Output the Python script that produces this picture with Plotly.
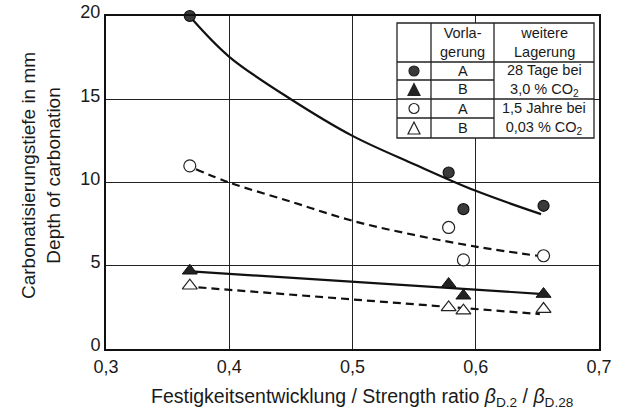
import plotly.graph_objects as go

# ---- data ----
x_pts = [0.368, 0.578, 0.590, 0.655]
filled_circle_y = [20.0, 10.6, 8.4, 8.6]      # A, 28 Tage bei 3,0 % CO2
filled_tri_y = [4.7, 3.9, 3.2, 3.3]           # B, 28 Tage bei 3,0 % CO2
open_circle_y = [11.0, 7.3, 5.35, 5.6]        # A, 1,5 Jahre bei 0,03 % CO2
open_tri_y = [3.8, 2.5, 2.3, 2.4]             # B, 1,5 Jahre bei 0,03 % CO2

# fitted curves
fitA_x = [0.370, 0.40, 0.45, 0.50, 0.55, 0.60, 0.653]
fitA_y = [19.8, 17.55, 15.0, 12.8, 11.1, 9.5, 8.1]
fitA2_x = [0.373, 0.40, 0.45, 0.50, 0.55, 0.60, 0.650]
fitA2_y = [10.8, 10.0, 8.85, 7.7, 6.85, 6.15, 5.6]
fitB_x = [0.372, 0.655]
fitB_y = [4.65, 3.3]
fitB2_x = [0.375, 0.652]
fitB2_y = [3.7, 2.1]

x_ticks = [0.3, 0.4, 0.5, 0.6, 0.7]
x_tick_text = ["0,3", "0,4", "0,5", "0,6", "0,7"]
y_ticks = [0, 5, 10, 15, 20]

W, H = 632, 417
L, R, T, B = 106, 33, 16, 68
PW, PH = W - L - R, H - T - B
FONT = "Liberation Sans, Arial, sans-serif"
TXT = "#1a1a1a"


def px(xp):
    return (xp - L) / PW


def py(yp):
    return (H - B - yp) / PH


fig = go.Figure()

line_w = 2.2
fig.add_trace(go.Scatter(x=fitA_x, y=fitA_y, mode="lines", line=dict(color="#111", width=line_w, shape="spline"), hoverinfo="skip"))
fig.add_trace(go.Scatter(x=fitA2_x, y=fitA2_y, mode="lines", line=dict(color="#111", width=line_w, shape="spline", dash="8px,5px"), hoverinfo="skip"))
fig.add_trace(go.Scatter(x=fitB_x, y=fitB_y, mode="lines", line=dict(color="#111", width=line_w), hoverinfo="skip"))
fig.add_trace(go.Scatter(x=fitB2_x, y=fitB2_y, mode="lines", line=dict(color="#111", width=line_w, dash="8px,5px"), hoverinfo="skip"))

fig.add_trace(go.Scatter(x=x_pts, y=filled_circle_y, mode="markers", cliponaxis=False,
                         marker=dict(symbol="circle", size=11, color="#3a3a3a", line=dict(color="#111", width=1.2))))
fig.add_trace(go.Scatter(x=x_pts, y=filled_tri_y, mode="markers", cliponaxis=False,
                         marker=dict(symbol="triangle-up", size=13, color="#222", line=dict(color="#111", width=1))))
fig.add_trace(go.Scatter(x=x_pts, y=open_circle_y, mode="markers", cliponaxis=False,
                         marker=dict(symbol="circle", size=12, color="white", line=dict(color="#222", width=1.2))))
fig.add_trace(go.Scatter(x=x_pts, y=open_tri_y, mode="markers", cliponaxis=False,
                         marker=dict(symbol="triangle-up", size=13, color="white", line=dict(color="#222", width=1.2))))

shapes = []
annotations = []

# ---- legend table ----
tl, c1, c2, tr = 397, 431, 494, 594
rows = [23, 62, 80, 99, 118, 138]
lw = 1.3
lc = "#222"


def hline(x0, x1, y):
    shapes.append(dict(type="line", xref="paper", yref="paper", x0=px(x0), x1=px(x1), y0=py(y), y1=py(y),
                       line=dict(color=lc, width=lw)))


def vline(x, y0, y1):
    shapes.append(dict(type="line", xref="paper", yref="paper", x0=px(x), x1=px(x), y0=py(y0), y1=py(y1),
                       line=dict(color=lc, width=lw)))


shapes.append(dict(type="rect", xref="paper", yref="paper", x0=px(tl), x1=px(tr), y0=py(rows[0]), y1=py(rows[-1]),
                   fillcolor="white", line=dict(color=lc, width=lw), layer="above"))
hline(tl, tr, rows[1])
hline(tl, c2, rows[2])
hline(tl, tr, rows[3])
hline(tl, c2, rows[4])
vline(c1, rows[0], rows[-1])
vline(c2, rows[0], rows[-1])

tfont = dict(family=FONT, size=14.5, color=TXT)


def txt(x, y, s):
    annotations.append(dict(x=px(x), y=py(y), xref="paper", yref="paper", text=s, showarrow=False,
                            font=tfont, xanchor="center", yanchor="middle"))


txt((c1 + c2) / 2, 42, "Vorla-<br>gerung")
txt((c2 + tr) / 2, 42, "weitere<br>Lagerung")
for i, s in enumerate(["A", "B", "A", "B"]):
    txt((c1 + c2) / 2, (rows[i + 1] + rows[i + 2]) / 2, s)
txt((c2 + tr) / 2, (rows[1] + rows[3]) / 2, "28 Tage bei<br>3,0 % CO<sub>2</sub>")
txt((c2 + tr) / 2, (rows[3] + rows[5]) / 2, "1,5 Jahre bei<br>0,03 % CO<sub>2</sub>")

# legend symbols
mx = (tl + c1) / 2
for i, (kind, fill) in enumerate([("c", "#3a3a3a"), ("t", "#222"), ("c", "white"), ("t", "white")]):
    cy = (rows[i + 1] + rows[i + 2]) / 2
    if kind == "c":
        r = 5
        shapes.append(dict(type="circle", xref="paper", yref="paper", x0=px(mx - r), x1=px(mx + r),
                           y0=py(cy + r), y1=py(cy - r), fillcolor=fill, line=dict(color="#222", width=1.2)))
    else:
        h = 6
        path = (f"M {px(mx - 6)} {py(cy + h)} L {px(mx + 6)} {py(cy + h)} L {px(mx)} {py(cy - h)} Z")
        shapes.append(dict(type="path", xref="paper", yref="paper", path=path, fillcolor=fill,
                           line=dict(color="#222", width=1.2)))

# axis titles
annotations.append(dict(x=px(41), y=py(176), xref="paper", yref="paper", showarrow=False, textangle=-90,
                        text="Carbonatisierungstiefe in mm<br>Depth of carbonation",
                        font=dict(family=FONT, size=19, color=TXT), xanchor="center", yanchor="middle"))
annotations.append(dict(x=px(362), y=py(397), xref="paper", yref="paper", showarrow=False,
                        text="Festigkeitsentwicklung / Strength ratio <i>β</i><sub>D.2</sub> / <i>β</i><sub>D.28</sub>",
                        font=dict(family=FONT, size=19.5, color=TXT), xanchor="center", yanchor="middle"))

fig.update_layout(
    width=W, height=H,
    margin=dict(l=L, r=R, t=T, b=B, autoexpand=False),
    paper_bgcolor="white", plot_bgcolor="white",
    showlegend=False,
    shapes=shapes, annotations=annotations,
    font=dict(family=FONT, color=TXT),
)
fig.update_xaxes(range=[0.3, 0.7], tickvals=x_ticks, ticktext=x_tick_text, automargin=False,
                 showgrid=True, gridcolor="#222", gridwidth=1.2,
                 showline=True, linecolor="#111", linewidth=2, mirror=True,
                 ticks="", tickfont=dict(family=FONT, size=18, color=TXT), zeroline=False)
fig.update_yaxes(range=[0, 20], tickvals=y_ticks, automargin=False,
                 showgrid=True, gridcolor="#222", gridwidth=1.2,
                 showline=True, linecolor="#111", linewidth=2, mirror=True, ticklabelshift=-4,
                 ticks="", tickfont=dict(family=FONT, size=18, color=TXT), zeroline=False)

fig.write_html("out.html", config={"displayModeBar": False},
               post_script="document.body.style.margin='0';document.body.style.overflow='hidden';")
